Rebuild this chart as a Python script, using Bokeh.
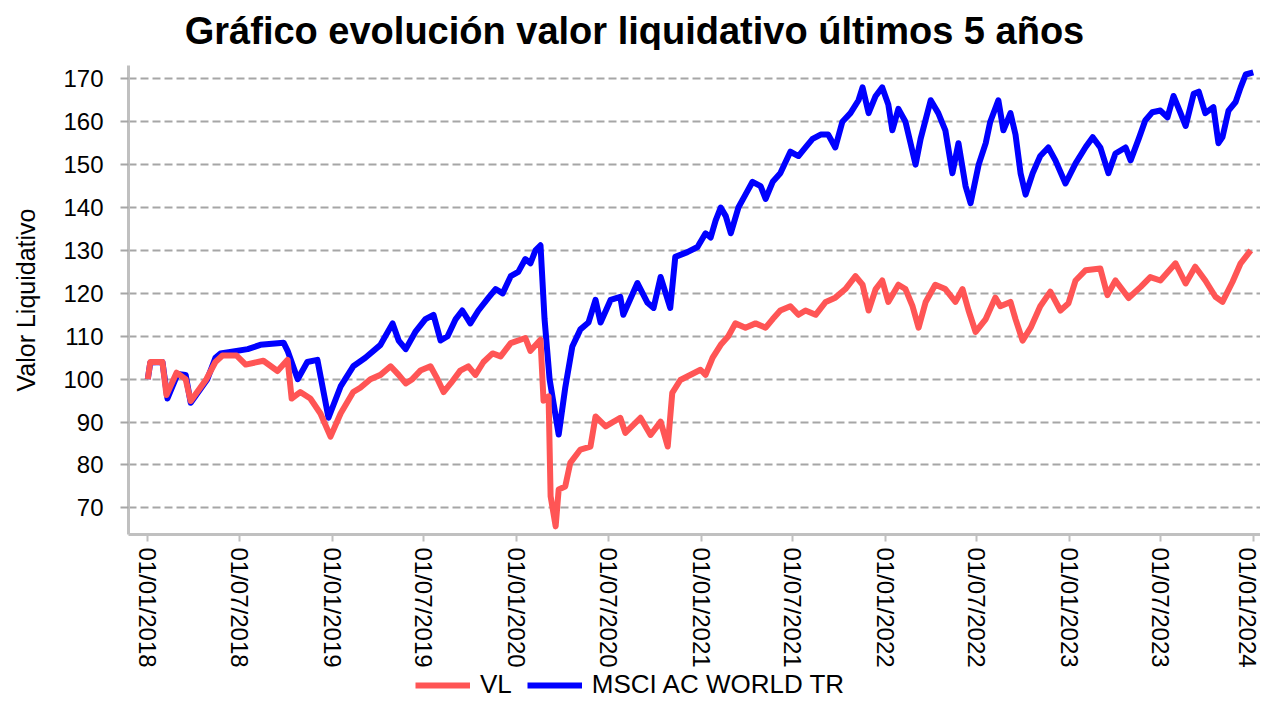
import pandas as pd
from bokeh.plotting import figure
from bokeh.layouts import column
from bokeh.models import (Range1d, FixedTicker, DatetimeTickFormatter, Legend,
                          LegendItem, ColumnDataSource, Label)
from bokeh.embed import file_html
from bokeh.resources import INLINE

title_text = "Gráfico evolución valor liquidativo últimos 5 años"
y_label = "Valor Liquidativo"
series_names = ["VL", "MSCI AC WORLD TR"]
x_tick_dates = ["2018-01-01", "2018-07-01", "2019-01-01", "2019-07-01", "2020-01-01",
                "2020-07-01", "2021-01-01", "2021-07-01", "2022-01-01", "2022-07-01",
                "2023-01-01", "2023-07-01", "2024-01-01"]
y_ticks = [70, 80, 90, 100, 110, 120, 130, 140, 150, 160, 170]

vl_dates = ["2018-01-01", "2018-01-06", "2018-01-30", "2018-02-07", "2018-02-27", "2018-03-17",
            "2018-03-27", "2018-04-27", "2018-05-15", "2018-05-29", "2018-06-26", "2018-07-14",
            "2018-08-18", "2018-09-15", "2018-10-05", "2018-10-13", "2018-10-30", "2018-11-19",
            "2018-12-09", "2018-12-29", "2019-01-18", "2019-02-12", "2019-02-26", "2019-03-18",
            "2019-04-07", "2019-04-27", "2019-05-13", "2019-05-27", "2019-06-09", "2019-06-25",
            "2019-07-15", "2019-07-29", "2019-08-10", "2019-08-24", "2019-09-12", "2019-09-28",
            "2019-10-12", "2019-10-28", "2019-11-15", "2019-12-01", "2019-12-21", "2020-01-19",
            "2020-01-29", "2020-02-18", "2020-02-24", "2020-03-05", "2020-03-09", "2020-03-19",
            "2020-03-25", "2020-04-07", "2020-04-17", "2020-05-07", "2020-05-27", "2020-06-06",
            "2020-06-26", "2020-07-25", "2020-08-04", "2020-09-03", "2020-09-23", "2020-10-13",
            "2020-10-27", "2020-11-05", "2020-11-21", "2020-12-31", "2021-01-10", "2021-01-24",
            "2021-02-09", "2021-02-24", "2021-03-10", "2021-03-30", "2021-04-19", "2021-05-09",
            "2021-05-23", "2021-06-07", "2021-06-27", "2021-07-13", "2021-07-27", "2021-08-16",
            "2021-09-05", "2021-09-24", "2021-10-14", "2021-11-03", "2021-11-17", "2021-11-29",
            "2021-12-13", "2021-12-26", "2022-01-07", "2022-01-27", "2022-02-10", "2022-02-24",
            "2022-03-08", "2022-03-22", "2022-04-10", "2022-04-30", "2022-05-20", "2022-06-03",
            "2022-06-15", "2022-06-29", "2022-07-19", "2022-08-07", "2022-08-17", "2022-09-06",
            "2022-09-16", "2022-09-30", "2022-10-16", "2022-11-04", "2022-11-24", "2022-12-14",
            "2022-12-30", "2023-01-13", "2023-02-02", "2023-03-03", "2023-03-17", "2023-04-02",
            "2023-04-28", "2023-05-22", "2023-06-10", "2023-06-30", "2023-07-30", "2023-08-19",
            "2023-09-07", "2023-09-27", "2023-10-17", "2023-10-31", "2023-11-20", "2023-12-06",
            "2023-12-26"]
vl_values = [100, 104, 104, 96.3, 101.5, 100,
             94.9, 100, 104, 105.5, 105.5, 103.4,
             104.3, 101.9, 104.5, 95.5, 97, 95.5,
             92, 86.6, 92, 97, 98, 100,
             101, 103, 101, 99, 100, 102,
             103, 100, 97, 99, 102, 103,
             101, 104, 106, 105.3, 108.4, 109.6,
             106.6, 109.2, 95, 96, 72.7, 65.7,
             74.3, 75, 80.5, 83.6, 84.3, 91.3,
             89, 91, 87.5, 91, 87, 90.1,
             84.3, 96.8, 99.8, 102.2, 101, 105,
             108, 110, 113, 112, 113, 112,
             114, 116, 117, 115, 116, 115,
             118, 119, 121, 124, 122, 116,
             121, 123, 118, 122, 121, 117,
             112, 118, 122, 121, 118, 121,
             116, 111, 114, 119, 117, 118,
             114, 109, 112, 117, 120.4, 116,
             117.7, 123, 125.4, 125.8, 119.6, 123,
             118.9, 121.5, 123.8, 123, 127, 122.3,
             126.2, 123, 119.2, 118, 122.7, 127,
             130]

msci_dates = ["2018-01-01", "2018-01-06", "2018-01-30", "2018-02-09", "2018-03-01", "2018-03-17",
              "2018-03-27", "2018-04-29", "2018-05-15", "2018-05-25", "2018-07-18", "2018-08-12",
              "2018-09-27", "2018-10-05", "2018-10-25", "2018-11-13", "2018-12-03", "2018-12-25",
              "2019-01-18", "2019-02-12", "2019-03-08", "2019-04-07", "2019-05-01", "2019-05-13",
              "2019-05-27", "2019-06-15", "2019-07-05", "2019-07-21", "2019-08-04", "2019-08-18",
              "2019-09-03", "2019-09-16", "2019-10-02", "2019-10-18", "2019-11-07", "2019-11-21",
              "2019-12-05", "2019-12-21", "2020-01-05", "2020-01-19", "2020-01-29", "2020-02-08",
              "2020-02-18", "2020-02-26", "2020-03-07", "2020-03-25", "2020-04-07", "2020-04-21",
              "2020-05-07", "2020-05-23", "2020-06-06", "2020-06-16", "2020-07-06", "2020-07-25",
              "2020-07-31", "2020-08-28", "2020-09-17", "2020-09-29", "2020-10-13", "2020-11-01",
              "2020-11-11", "2020-12-05", "2020-12-25", "2021-01-10", "2021-01-20", "2021-01-30",
              "2021-02-09", "2021-02-19", "2021-03-01", "2021-03-16", "2021-03-30", "2021-04-13",
              "2021-04-29", "2021-05-09", "2021-05-23", "2021-06-07", "2021-06-27", "2021-07-13",
              "2021-07-27", "2021-08-10", "2021-08-26", "2021-09-10", "2021-09-24", "2021-10-08",
              "2021-10-24", "2021-11-09", "2021-11-17", "2021-11-29", "2021-12-13", "2021-12-26",
              "2022-01-07", "2022-01-15", "2022-01-27", "2022-02-10", "2022-02-20", "2022-03-02",
              "2022-03-12", "2022-04-01", "2022-04-16", "2022-04-30", "2022-05-14", "2022-05-26",
              "2022-06-09", "2022-06-19", "2022-07-05", "2022-07-19", "2022-07-28", "2022-08-13",
              "2022-08-23", "2022-09-06", "2022-09-16", "2022-09-26", "2022-10-06", "2022-10-20",
              "2022-11-04", "2022-11-20", "2022-12-04", "2022-12-24", "2023-01-13", "2023-02-02",
              "2023-02-16", "2023-03-03", "2023-03-19", "2023-04-02", "2023-04-22", "2023-05-02",
              "2023-05-18", "2023-05-31", "2023-06-14", "2023-06-30", "2023-07-14", "2023-07-26",
              "2023-08-09", "2023-08-19", "2023-09-04", "2023-09-14", "2023-09-27", "2023-10-13",
              "2023-10-23", "2023-10-31", "2023-11-12", "2023-11-26", "2023-12-06", "2023-12-16",
              "2023-12-31"]
msci_values = [100, 103.9, 104, 95.5, 101.2, 101,
               94.5, 100, 105, 106, 107, 108,
               108.5, 106.6, 100, 104, 104.5, 91,
               98.3, 103, 105, 108, 113, 109,
               107, 111, 114, 115, 109, 110,
               114, 116, 113, 116, 119, 121,
               120, 124, 125, 128, 127, 130,
               131.2, 114, 100, 87.1, 98, 107.6,
               111.6, 113.2, 118.5, 113.2, 118.5, 119.2,
               115, 122.4, 117.8, 116.6, 123.8, 116.6,
               128.5, 129.6, 130.8, 134, 133, 137,
               140, 138, 134, 140, 143, 146,
               145, 142, 146, 148, 153, 152,
               154, 156, 157, 157, 154, 160,
               162, 165, 168, 162, 166, 168,
               164, 158, 163, 160, 155, 150,
               156, 165, 162, 158, 148, 155,
               145, 141, 150, 155, 160, 165,
               158, 162, 157, 148, 143, 148,
               152, 154, 151, 145.6, 150.3, 154.1,
               156.4, 154, 148, 152.6, 154, 151,
               156, 160.3, 162.2, 162.6, 161, 166,
               162, 159, 166.5, 167, 162, 163.4,
               155, 156.4, 162.6, 164.6, 168, 171,
               171.5]

FONT = "Liberation Sans"
RED = "#ff5555"
BLUE = "#0000ff"
LW = 6
WIDTH = 1260

src_msci = ColumnDataSource(dict(x=pd.to_datetime(msci_dates), y=msci_values))
src_vl = ColumnDataSource(dict(x=pd.to_datetime(vl_dates), y=vl_values))


def strip(height):
    f = figure(width=WIDTH, height=height, output_backend="svg", toolbar_location=None,
               x_range=(0, 1), y_range=(0, 1), x_axis_location=None, y_axis_location=None,
               min_border=0)
    f.outline_line_color = None
    f.grid.visible = False
    f.background_fill_color = "white"
    f.border_fill_color = "white"
    return f


# title strip
tf = strip(50)
tf.add_layout(Label(x=506, y=20, x_units="screen", y_units="screen", text=title_text,
                    text_font=FONT, text_font_size="38px", text_font_style="bold",
                    text_color="black", text_align="center", text_baseline="alphabetic"))

# main chart
p = figure(width=WIDTH, height=620, output_backend="svg", toolbar_location=None,
           x_axis_type="datetime",
           x_range=Range1d(pd.Timestamp("2017-11-23 19:00"), pd.Timestamp("2024-01-14 08:00")),
           y_range=Range1d(63.8, 173.1),
           min_border_left=128, min_border_right=0, min_border_top=15, min_border_bottom=135)
p.outline_line_color = None
p.background_fill_color = "white"
p.border_fill_color = "white"

p.line("x", "y", source=src_msci, line_color=BLUE, line_width=LW, line_join="round")
p.line("x", "y", source=src_vl, line_color=RED, line_width=LW, line_join="round")

xa = p.xaxis[0]
xa.ticker = FixedTicker(ticks=[pd.Timestamp(d).value / 1e6 for d in x_tick_dates])
fmt = "%d/%m/%Y"
xa.formatter = DatetimeTickFormatter(microseconds=fmt, milliseconds=fmt, seconds=fmt, minsec=fmt,
                                     minutes=fmt, hourmin=fmt, hours=fmt, days=fmt, months=fmt,
                                     years=fmt, context=None)
xa.major_label_orientation = "vertical"
xa.major_label_text_font = FONT
xa.major_label_text_font_size = "24px"
xa.major_label_text_color = "black"
xa.major_label_standoff = 6
xa.major_tick_out = 7
xa.major_tick_in = 0
xa.minor_tick_out = 0
xa.minor_tick_in = 0
xa.major_tick_line_color = "#c0c0c0"
xa.major_tick_line_width = 2
xa.axis_line_color = "#c0c0c0"
xa.axis_line_width = 3

ya = p.yaxis[0]
ya.ticker = FixedTicker(ticks=y_ticks)
ya.major_label_text_font = FONT
ya.major_label_text_font_size = "24px"
ya.major_label_text_color = "black"
ya.major_label_standoff = 17
ya.major_tick_out = 8
ya.major_tick_in = 0
ya.minor_tick_out = 0
ya.minor_tick_in = 0
ya.major_tick_line_color = "#a6a6a6"
ya.major_tick_line_width = 2
ya.axis_line_color = "#c0c0c0"
ya.axis_line_width = 3
ya.axis_label = y_label
ya.axis_label_text_font = FONT
ya.axis_label_text_font_size = "25px"
ya.axis_label_text_font_style = "normal"
ya.axis_label_text_color = "black"
ya.axis_label_standoff = 20

p.xgrid.grid_line_color = None
p.ygrid.grid_line_color = "#a6a6a6"
p.ygrid.grid_line_width = 2
p.ygrid.grid_line_dash = "8 4"

# legend strip
lg = strip(30)
d_vl = lg.line("x", "y", source=src_vl, line_color=RED, line_width=LW)
d_msci = lg.line("x", "y", source=src_msci, line_color=BLUE, line_width=LW)
legend = Legend(items=[LegendItem(label=series_names[0], renderers=[d_vl]),
                       LegendItem(label=series_names[1], renderers=[d_msci])],
                orientation="horizontal", location=(287, 0),
                glyph_width=55, glyph_height=26, label_height=26, label_standoff=10,
                spacing=15, padding=0, margin=0, border_line_color=None,
                background_fill_alpha=0, label_text_font=FONT, label_text_font_size="26px",
                label_text_color="black")
lg.add_layout(legend, "center")

open("out.html", "w").write(file_html(column(tf, p, lg, spacing=0), INLINE))
